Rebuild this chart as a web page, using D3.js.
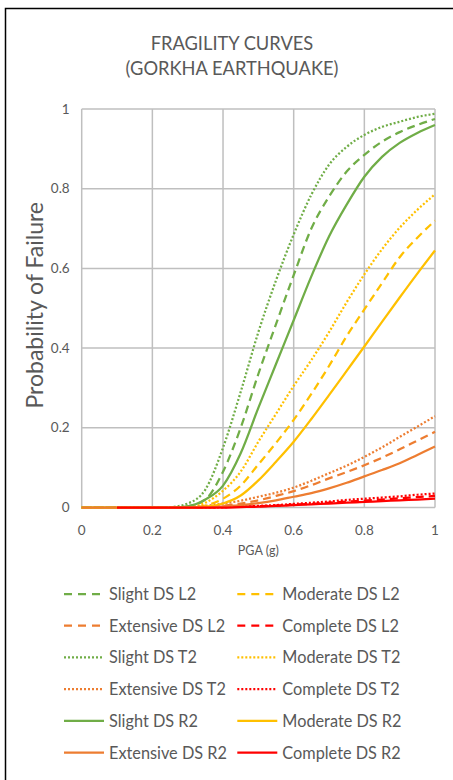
<!DOCTYPE html>
<html>
<head>
<meta charset="utf-8">
<script src="https://cdn.jsdelivr.net/npm/d3@7"></script>
<style>
  body { margin: 0; background: #fff; }
  svg text { font-family: Lato, "Open Sans", sans-serif; fill: #595959; }
</style>
</head>
<body>
<div id="chart"></div>
<script>
// PGA values (g)
const pga = [0, 0.05, 0.1, 0.15, 0.2, 0.25, 0.3, 0.35, 0.4, 0.45, 0.5,
  0.55, 0.6, 0.65, 0.7, 0.75, 0.8, 0.85, 0.9, 0.95, 1];

// probability of failure
const slightL2 = [0, 0, 0, 0, 0, 0, 0.003, 0.02, 0.09, 0.2, 0.335, 0.46, 0.583, 0.7, 0.78, 0.843, 0.885, 0.918, 0.942, 0.96, 0.975];
const moderateL2 = [0, 0, 0, 0, 0, 0, 0, 0.005, 0.022, 0.055, 0.108, 0.162, 0.22, 0.285, 0.355, 0.43, 0.497, 0.563, 0.628, 0.677, 0.72];
const extensiveL2 = [0, 0, 0, 0, 0, 0, 0, 0.001, 0.004, 0.01, 0.018, 0.029, 0.041, 0.056, 0.073, 0.089, 0.106, 0.125, 0.146, 0.168, 0.19];
const completeL2 = [null, null, 0, 0, 0, 0, 0, 0, 0.001, 0.002, 0.003, 0.005, 0.007, 0.009, 0.012, 0.015, 0.017, 0.02, 0.023, 0.026, 0.029];
const slightT2 = [0, 0, 0, 0, 0, 0.001, 0.01, 0.045, 0.15, 0.29, 0.44, 0.57, 0.685, 0.785, 0.86, 0.905, 0.935, 0.955, 0.968, 0.98, 0.988];
const moderateT2 = [0, 0, 0, 0, 0, 0, 0.001, 0.012, 0.042, 0.09, 0.165, 0.235, 0.305, 0.37, 0.44, 0.515, 0.585, 0.648, 0.702, 0.747, 0.786];
const extensiveT2 = [0, 0, 0, 0, 0, 0, 0.001, 0.004, 0.01, 0.017, 0.027, 0.037, 0.05, 0.067, 0.086, 0.105, 0.127, 0.151, 0.177, 0.203, 0.229];
const completeT2 = [null, null, 0, 0, 0, 0, 0, 0, 0.001, 0.002, 0.004, 0.006, 0.009, 0.012, 0.015, 0.019, 0.022, 0.025, 0.028, 0.032, 0.035];
const slightR2 = [0, 0, 0, 0, 0, 0, 0.003, 0.02, 0.055, 0.136, 0.25, 0.36, 0.47, 0.58, 0.68, 0.76, 0.83, 0.88, 0.915, 0.94, 0.96];
const moderateR2 = [0, 0, 0, 0, 0, 0, 0, 0.002, 0.01, 0.03, 0.068, 0.115, 0.165, 0.222, 0.282, 0.343, 0.404, 0.466, 0.527, 0.587, 0.645];
const extensiveR2 = [0, 0, 0, 0, 0, 0, 0, 0, 0.003, 0.006, 0.011, 0.018, 0.027, 0.036, 0.048, 0.062, 0.078, 0.094, 0.111, 0.132, 0.153];
const completeR2 = [null, null, 0, 0, 0, 0, 0, 0, 0, 0.001, 0.002, 0.004, 0.006, 0.008, 0.01, 0.012, 0.014, 0.016, 0.018, 0.02, 0.022];

const seriesNames = [
  "Slight DS L2", "Moderate DS L2", "Extensive DS L2", "Complete DS L2",
  "Slight DS T2", "Moderate DS T2", "Extensive DS T2", "Complete DS T2",
  "Slight DS R2", "Moderate DS R2", "Extensive DS R2", "Complete DS R2"
];
const seriesValues = [
  slightL2, moderateL2, extensiveL2, completeL2,
  slightT2, moderateT2, extensiveT2, completeT2,
  slightR2, moderateR2, extensiveR2, completeR2
];
const xTicks = [0, 0.2, 0.4, 0.6, 0.8, 1];
const yTicks = [0, 0.2, 0.4, 0.6, 0.8, 1];

const colors = { Slight: "#70ad47", Moderate: "#ffc000", Extensive: "#ed7d31", Complete: "#ff0000" };
const dashes = { L2: "8,5", T2: "2,2", R2: null };

const width = 453;
const height = 780;
const margin = { left: 81.7, right: 18, top: 109, bottom: 272.5 };

const svg = d3.select("#chart").append("svg")
  .attr("width", width)
  .attr("height", height);

svg.append("rect")
  .attr("x", 0).attr("y", 0)
  .attr("width", width).attr("height", height)
  .attr("fill", "#fff");

// chart frame, cropped on the right and bottom
svg.append("rect")
  .attr("x", 5.5).attr("y", 8.5)
  .attr("width", 500).attr("height", 800)
  .attr("fill", "none")
  .attr("stroke", "#000")
  .attr("stroke-width", 1.5);

const x = d3.scaleLinear().domain([0, 1]).range([margin.left, width - margin.right]);
const y = d3.scaleLinear().domain([0, 1]).range([height - margin.bottom, margin.top]);

// title
const title = svg.append("text")
  .attr("x", 232)
  .attr("y", 50)
  .attr("text-anchor", "middle")
  .style("font-size", "18.3px");
title.append("tspan").attr("x", 232).text("FRAGILITY CURVES");
title.append("tspan").attr("x", 232).attr("dy", 24.5).text("(GORKHA EARTHQUAKE)");

// gridlines
svg.append("g")
  .selectAll("line")
  .data(xTicks)
  .join("line")
  .attr("x1", (d) => x(d)).attr("x2", (d) => x(d))
  .attr("y1", y(0)).attr("y2", y(1))
  .attr("stroke", "#bfbfbf")
  .attr("stroke-width", 1.5);

svg.append("g")
  .selectAll("line")
  .data(yTicks)
  .join("line")
  .attr("x1", x(0)).attr("x2", x(1))
  .attr("y1", (d) => y(d)).attr("y2", (d) => y(d))
  .attr("stroke", "#bfbfbf")
  .attr("stroke-width", 1.5);

// tick labels
svg.append("g")
  .selectAll("text")
  .data(xTicks)
  .join("text")
  .attr("x", (d) => x(d))
  .attr("y", y(0) + 27)
  .attr("text-anchor", "middle")
  .style("font-size", "13.5px")
  .text((d) => d3.format("~g")(d));

svg.append("g")
  .selectAll("text")
  .data(yTicks)
  .join("text")
  .attr("x", x(0) - 12)
  .attr("y", (d) => y(d) + 4.5)
  .attr("text-anchor", "end")
  .style("font-size", "13.5px")
  .text((d) => d3.format("~g")(d));

// axis titles
svg.append("text")
  .attr("x", (x(0) + x(1)) / 2)
  .attr("y", 555)
  .attr("text-anchor", "middle")
  .style("font-size", "12.5px")
  .text("PGA (g)");

svg.append("text")
  .attr("transform", `translate(43,${(y(0) + y(1)) / 2 - 3}) rotate(-90)`)
  .attr("text-anchor", "middle")
  .style("font-size", "23px")
  .text("Probability of Failure");

// curves
const series = seriesNames.map((name, i) => {
  const parts = name.split(" ");
  return {
    name: name,
    color: colors[parts[0]],
    dash: dashes[parts[2]],
    points: pga.map((p, j) => ({ p: p, v: seriesValues[i][j] }))
  };
});

const line = d3.line()
  .defined((d) => d.v !== null)
  .x((d) => x(d.p))
  .y((d) => y(d.v))
  .curve(d3.curveMonotoneX);

svg.append("g")
  .selectAll("path")
  .data(series)
  .join("path")
  .attr("d", (d) => line(d.points))
  .attr("fill", "none")
  .attr("stroke", (d) => d.color)
  .attr("stroke-width", 2.25)
  .attr("stroke-dasharray", (d) => d.dash);

// legend
const legend = svg.append("g")
  .selectAll("g")
  .data(series)
  .join("g")
  .attr("transform", (d, i) => `translate(${i % 2 === 0 ? 64 : 237.3},${594 + Math.floor(i / 2) * 31.7})`);

legend.append("line")
  .attr("x1", 0).attr("x2", 40)
  .attr("y1", 0).attr("y2", 0)
  .attr("stroke", (d) => d.color)
  .attr("stroke-width", 2.25)
  .attr("stroke-dasharray", (d) => d.dash === "8,5" ? "8,6" : d.dash);

legend.append("text")
  .attr("x", 45)
  .attr("y", 6)
  .style("font-size", "16.3px")
  .text((d) => d.name);
</script>
</body>
</html>
